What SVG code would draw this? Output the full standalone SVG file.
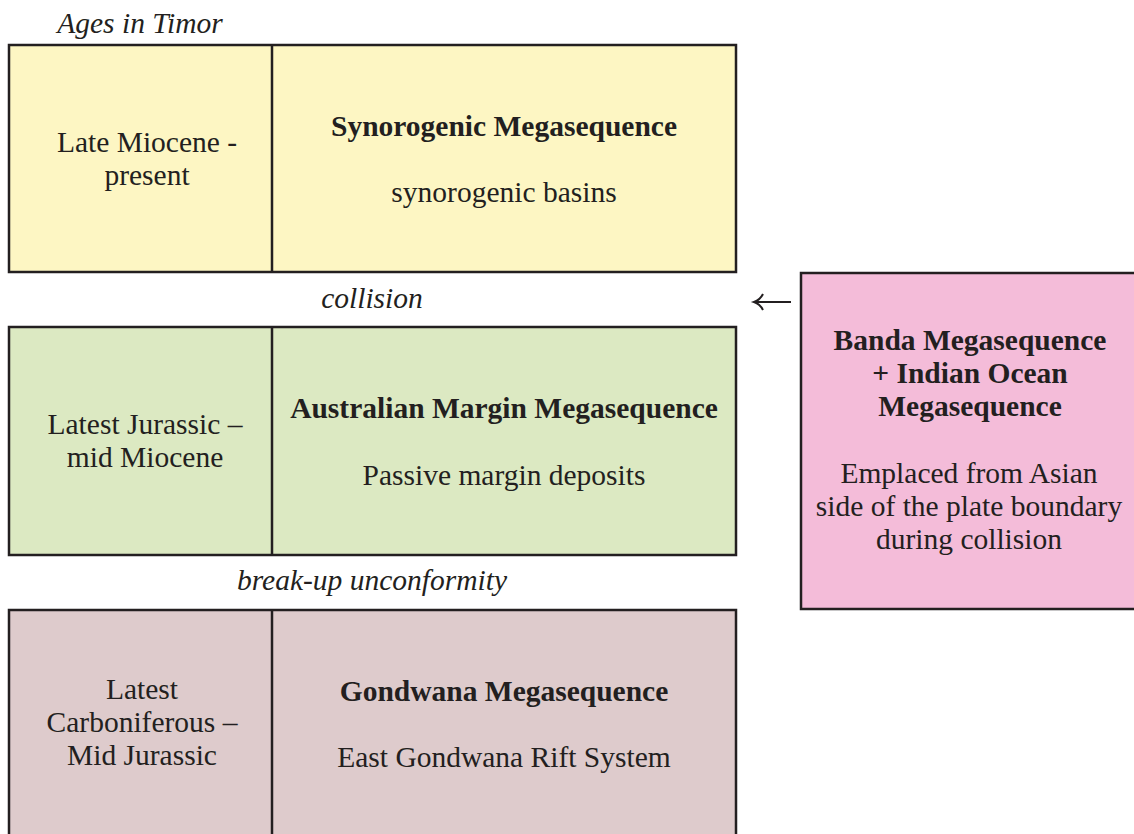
<svg xmlns="http://www.w3.org/2000/svg" width="1134" height="834" viewBox="0 0 1134 834">
<style>
.box{stroke:#231F20;stroke-width:2.5}
.t{font-family:"Liberation Serif","Times New Roman",serif;font-size:29.5px;fill:#231F20;text-anchor:middle}
.b{font-weight:bold}
.i{font-style:italic}
.arr{stroke:#231F20;stroke-width:2;fill:none}
</style>
<rect width="1134" height="834" fill="#fff"/>
<text class="t i" x="140" y="33">Ages in Timor</text>
<g id="synorogenic">
<rect class="box" x="9" y="45" width="727" height="227" fill="#FDF6C3"/>
<line class="box" x1="272" y1="45" x2="272" y2="272"/>
<text class="t" x="147" y="152">Late Miocene -</text>
<text class="t" x="147" y="185">present</text>
<text class="t b" x="504" y="136">Synorogenic Megasequence</text>
<text class="t" x="504" y="202">synorogenic basins</text>
</g>
<text class="t i" x="372" y="308">collision</text>
<g id="australian">
<rect class="box" x="9" y="327" width="727" height="228" fill="#DCE9C2"/>
<line class="box" x1="272" y1="327" x2="272" y2="555"/>
<text class="t" x="145" y="434">Latest Jurassic –</text>
<text class="t" x="145" y="467">mid Miocene</text>
<text class="t b" x="504" y="418">Australian Margin Megasequence</text>
<text class="t" x="504" y="485">Passive margin deposits</text>
</g>
<text class="t i" x="372" y="590">break-up unconformity</text>
<g id="gondwana">
<rect class="box" x="9" y="610" width="727" height="240" fill="#DECBCC"/>
<line class="box" x1="272" y1="610" x2="272" y2="850"/>
<text class="t" x="142" y="699">Latest</text>
<text class="t" x="142" y="732">Carboniferous –</text>
<text class="t" x="142" y="765">Mid Jurassic</text>
<text class="t b" x="504" y="701">Gondwana Megasequence</text>
<text class="t" x="504" y="767">East Gondwana Rift System</text>
</g>
<g id="banda">
<rect class="box" x="801" y="273" width="340" height="336" fill="#F4BCD9"/>
<text class="t b" x="970" y="350">Banda Megasequence</text>
<text class="t b" x="970" y="383">+ Indian Ocean</text>
<text class="t b" x="970" y="416">Megasequence</text>
<text class="t" x="969" y="483">Emplaced from Asian</text>
<text class="t" x="969" y="516">side of the plate boundary</text>
<text class="t" x="969" y="549">during collision</text>
</g>
<g id="connectors">
<path class="arr" d="M791 302 H755"/>
<path class="arr" d="M763 294 Q760 300 754 302 Q760 304 763 310"/>
</g>
</svg>
